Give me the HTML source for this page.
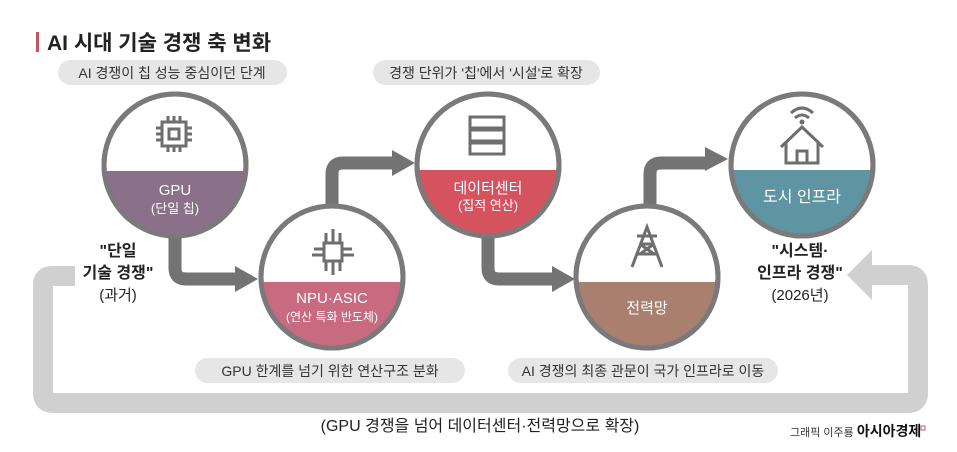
<!DOCTYPE html>
<html><head><meta charset="utf-8"><style>
body{margin:0;background:#fff}
svg{display:block}
text{font-family:"Liberation Sans","Noto Sans CJK KR",sans-serif}
</style></head><body>
<svg width="957" height="452" viewBox="0 0 957 452" xmlns="http://www.w3.org/2000/svg">
<defs>
<clipPath id="c1"><circle cx="175" cy="165" r="71"/></clipPath>
<clipPath id="c2"><circle cx="332" cy="277" r="71"/></clipPath>
<clipPath id="c3"><circle cx="488" cy="165" r="71"/></clipPath>
<clipPath id="c4"><circle cx="647" cy="277" r="71"/></clipPath>
<clipPath id="c5"><circle cx="802" cy="165" r="71"/></clipPath>
</defs>
<!-- title -->
<rect x="36" y="32" width="3" height="20" fill="#c7535c"/>
<text x="47" y="50" font-size="21" font-weight="bold" fill="#222">AI 시대 기술 경쟁 축 변화</text>
<!-- pills -->
<rect x="58" y="60" width="229" height="25" rx="12.5" fill="#e6e6e6"/>
<text x="172" y="78" font-size="14" fill="#333" text-anchor="middle">AI 경쟁이 칩 성능 중심이던 단계</text>
<rect x="373" y="60" width="227" height="25" rx="12.5" fill="#e6e6e6"/>
<text x="486" y="78" font-size="14" fill="#333" text-anchor="middle">경쟁 단위가 '칩'에서 '시설'로 확장</text>
<rect x="195" y="358" width="270" height="25" rx="12.5" fill="#e6e6e6"/>
<text x="330" y="376" font-size="14" fill="#333" text-anchor="middle">GPU 한계를 넘기 위한 연산구조 분화</text>
<rect x="508" y="358" width="270" height="25" rx="12.5" fill="#e6e6e6"/>
<text x="643" y="376" font-size="14" fill="#333" text-anchor="middle">AI 경쟁의 최종 관문이 국가 인프라로 이동</text>
<!-- light loop -->
<path d="M75 276 H52 Q43 276 43 285 V393 Q43 403 53 403 H908 Q918 403 918 393 V285 Q918 275 908 275 H870" fill="none" stroke="#d0d0d0" stroke-width="20"/>
<polygon points="847,275 872,250 872,300" fill="#d0d0d0"/>
<!-- dark arrows -->
<g fill="none" stroke="#737373" stroke-width="13">
<path d="M175 235 V268 Q175 279 186 279 H238"/>
<path d="M332 210 V174 Q332 163 343 163 H396"/>
<path d="M488 235 V268 Q488 279 499 279 H555"/>
<path d="M650 210 V174 Q650 163 661 163 H708"/>
</g>
<g fill="#737373">
<polygon points="258,279 235,266 235,292"/>
<polygon points="415,163 392,150 392,176"/>
<polygon points="575,279 552,266 552,292"/>
<polygon points="728,159 705,147 705,171"/>
</g>
<!-- circles -->
<g stroke="#7a7a7a" stroke-width="5">
<circle cx="175" cy="165" r="71" fill="#fff"/>
<circle cx="332" cy="277" r="71" fill="#fff"/>
<circle cx="488" cy="165" r="71" fill="#fff"/>
<circle cx="647" cy="277" r="71" fill="#fff"/>
<circle cx="802" cy="165" r="71" fill="#fff"/>
</g>
<rect x="100" y="171" width="150" height="80" fill="#8b7089" clip-path="url(#c1)"/>
<rect x="257" y="282" width="150" height="80" fill="#c86a80" clip-path="url(#c2)"/>
<rect x="413" y="170" width="150" height="80" fill="#d5525f" clip-path="url(#c3)"/>
<rect x="572" y="282" width="150" height="80" fill="#a9806f" clip-path="url(#c4)"/>
<rect x="727" y="170" width="150" height="80" fill="#5f94a3" clip-path="url(#c5)"/>
<g fill="none" stroke="#7a7a7a" stroke-width="5">
<circle cx="175" cy="165" r="71"/>
<circle cx="332" cy="277" r="71"/>
<circle cx="488" cy="165" r="71"/>
<circle cx="647" cy="277" r="71"/>
<circle cx="802" cy="165" r="71"/>
</g>
<!-- icons -->
<g fill="none" stroke="#6e6e6e" stroke-width="3">
<rect x="162" y="122" width="24" height="24"/>
<rect x="169" y="129" width="10" height="10"/>
<path d="M168 116v6M174 116v6M180 116v6M168 146v6M174 146v6M180 146v6M156 128h6M156 134h6M156 140h6M186 128h6M186 134h6M186 140h6"/>
<rect x="324" y="243" width="18" height="18"/>
<path d="M326 243v-10M333 243v-14M340 243v-10M326 261v10M333 261v14M340 261v10M324 249h-10M324 255h-12M342 249h10M342 255h12"/>
<rect x="470" y="117" width="34" height="11"/><rect x="470" y="130" width="34" height="11"/><rect x="470" y="143" width="34" height="11"/>
<path d="M632 267 L647 227 L662 267 M637 254h20M640 244h14M637 236h20M640 244 L654 254 M654 244 L640 254"/>
<path d="M781 147 L802 127 L823 147 M786 143v20h32v-20 M797 163v-12h10v12"/>
<path d="M791 113 q11 -10 22 0 M795 118 q7 -6 14 0"/>
</g>
<rect x="482" y="120" width="0" height="0"/>
<circle cx="802" cy="122" r="2.5" fill="#6e6e6e"/>
<!-- circle labels -->
<g fill="#fff" text-anchor="middle">
<text x="175" y="195" font-size="15">GPU</text>
<text x="175" y="213" font-size="13">(단일 칩)</text>
<text x="332" y="303" font-size="15">NPU·ASIC</text>
<text x="332" y="321" font-size="12">(연산 특화 반도체)</text>
<text x="488" y="193" font-size="15">데이터센터</text>
<text x="488" y="210" font-size="13">(집적 연산)</text>
<text x="647" y="313" font-size="15">전력망</text>
<text x="802" y="202" font-size="16">도시 인프라</text>
</g>
<g text-anchor="middle" fill="#222">
<text x="118" y="256" font-size="16" font-weight="bold">"단일</text>
<text x="118" y="278" font-size="16" font-weight="bold">기술 경쟁"</text>
<text x="118" y="300" font-size="15">(과거)</text>
<text x="800" y="256" font-size="16" font-weight="bold">"시스템·</text>
<text x="800" y="278" font-size="16" font-weight="bold">인프라 경쟁"</text>
<text x="800" y="300" font-size="15">(2026년)</text>
<text x="480" y="431" font-size="16">(GPU 경쟁을 넘어 데이터센터·전력망으로 확장)</text>
</g>
<text x="790" y="436" font-size="11" fill="#333">그래픽 이주룡 <tspan font-size="14" font-weight="bold" fill="#111">아시아경제</tspan></text>
<rect x="921" y="426" width="4" height="4" fill="none" stroke="#c7535c" stroke-width="1"/>
</svg>
</body></html>
